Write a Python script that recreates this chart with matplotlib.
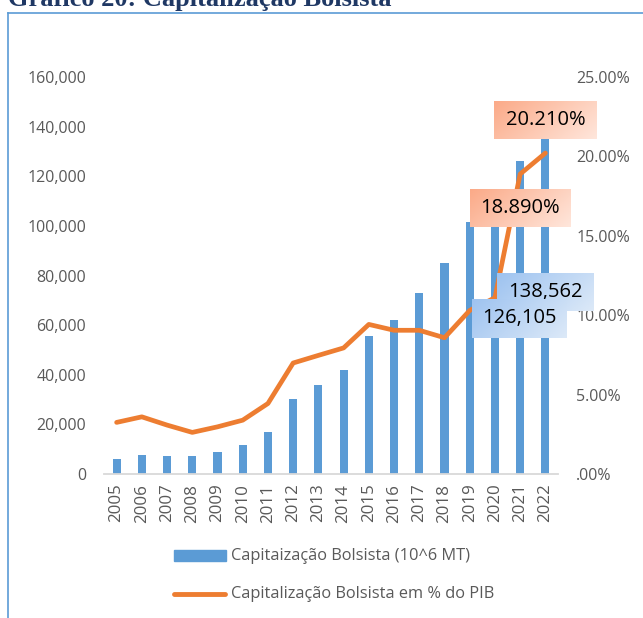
import numpy as np
import matplotlib
matplotlib.use("Agg")
import matplotlib.pyplot as plt
from matplotlib.ticker import FuncFormatter

FONT = ["Open Sans", "DejaVu Sans"]
plt.rcParams['font.family'] = FONT

years = ["2005", "2006", "2007", "2008", "2009", "2010", "2011", "2012", "2013",
         "2014", "2015", "2016", "2017", "2018", "2019", "2020", "2021", "2022"]
cap_mt = [5900, 7600, 7200, 7200, 8800, 11800, 17100, 30100, 35900,
          42100, 55500, 62200, 72900, 85200, 101700, 105000, 126105, 138562]
cap_pib = [3.25, 3.60, 3.08, 2.62, 2.97, 3.39, 4.44, 6.99, 7.47,
           7.94, 9.42, 9.05, 9.05, 8.58, 10.30, 11.10, 18.89, 20.21]

BLUE = '#5B9BD5'
ORANGE = '#ED7D31'
GREY = '#595959'

W, H = 643, 618
fig = plt.figure(figsize=(W / 100, H / 100), dpi=100)

# frame of the chart object (left and top edges visible)
fig.add_artist(plt.Line2D([7.5 / W, 7.5 / W], [0, 1 - 12.5 / H], color=BLUE, lw=1.2))
fig.add_artist(plt.Line2D([7.5 / W, 1], [1 - 12.5 / H, 1 - 12.5 / H], color=BLUE, lw=1.2))

# title sits partly above the page edge, as in the source
fig.text(8 / W, 1 - 6 / H, "Gráfico 20: Capitalização Bolsista", family="Liberation Serif",
         fontweight='bold', fontsize=19, color='#1F3864', ha='left', va='baseline')

ax = fig.add_axes([104 / W, (H - 474) / H, 454 / W, 397 / H])
x = np.arange(len(years))
ax.bar(x, cap_mt, width=0.32, color=BLUE, zorder=2)
ax.set_xlim(-0.5, len(years) - 0.5)
ax.set_ylim(0, 160000)
ax.set_yticks(np.arange(0, 160001, 20000))
ax.yaxis.set_major_formatter(FuncFormatter(lambda v, p: f"{int(v):,}"))
ax.set_xticks(x)
ax.set_xticklabels(years, rotation=90, fontsize=12.2)
for s in ['top', 'left', 'right']:
    ax.spines[s].set_visible(False)
ax.spines['bottom'].set_color('#D9D9D9')
ax.spines['bottom'].set_linewidth(1.3)
ax.tick_params(axis='both', length=0, labelcolor=GREY)
ax.tick_params(axis='y', pad=13, labelsize=11.5)
ax.tick_params(axis='x', pad=7)

ax2 = ax.twinx()
ax2.plot(x, cap_pib, color=ORANGE, lw=3.4, solid_capstyle='round', solid_joinstyle='round', zorder=3)
ax2.set_ylim(0, 25)
ax2.set_yticks(np.arange(0, 26, 5))
ax2.yaxis.set_major_formatter(FuncFormatter(lambda v, p: ".00%" if v == 0 else f"{v:.2f}%"))
for s in ['top', 'left', 'right', 'bottom']:
    ax2.spines[s].set_visible(False)
ax2.tick_params(axis='y', length=0, labelsize=11.5, labelcolor=GREY, pad=13)

# data labels with gradient boxes
def label_box(axis, xi, yi, dx, dy, text, w, h, c0, c1):
    px, py = axis.transData.transform((xi, yi))
    cx, cy = px + dx, py + dy
    bax = fig.add_axes([(cx - w / 2) / W, (cy - h / 2) / H, w / W, h / H], zorder=5)
    c0 = np.array(matplotlib.colors.to_rgb(c0))
    c1 = np.array(matplotlib.colors.to_rgb(c1))
    gx, gy = np.meshgrid(np.linspace(0, 1, 60), np.linspace(0, 1, 20))
    t = (0.7 * gx + 0.3 * gy)[..., None]
    grad = c0 * (1 - t) + c1 * t
    bax.imshow(grad, aspect='auto', extent=(0, 1, 0, 1), origin='upper')
    bax.set_axis_off()
    bax.text(0.5, 0.5, text, ha='center', va='center', fontsize=14.5, color='black',
             transform=bax.transAxes)

label_box(ax, 17, cap_mt[17], 0, -162, f"{cap_mt[17]:,}", 96, 38, '#9EC3F0', '#DCE9F8')
label_box(ax, 16, cap_mt[16], -1, -157, f"{cap_mt[16]:,}", 95, 39, '#9EC3F0', '#DCE9F8')
label_box(ax2, 17, cap_pib[17], 0, 33, f"{cap_pib[17]:.3f}%", 103, 38, '#FBAA88', '#FFE6DB')
label_box(ax2, 16, cap_pib[16], 0, -34, f"{cap_pib[16]:.3f}%", 101, 38, '#FBAA88', '#FFE6DB')

# legend drawn below the axes
fig.add_artist(plt.Rectangle((174 / W, 1 - 561 / H), 52 / W, 11 / H, color=BLUE, transform=fig.transFigure))
fig.text(231 / W, 1 - 555.5 / H, "Capitaização Bolsista (10^6 MT)", fontsize=11.8, color=GREY, va='center')
fig.add_artist(plt.Line2D([174 / W, 225 / W], [1 - 594 / H, 1 - 594 / H], color=ORANGE, lw=3.5,
                          solid_capstyle='round'))
fig.text(231 / W, 1 - 594 / H, "Capitalização Bolsista em % do PIB", fontsize=11.8, color=GREY, va='center')

fig.savefig("out.png", dpi=100, facecolor='white')
